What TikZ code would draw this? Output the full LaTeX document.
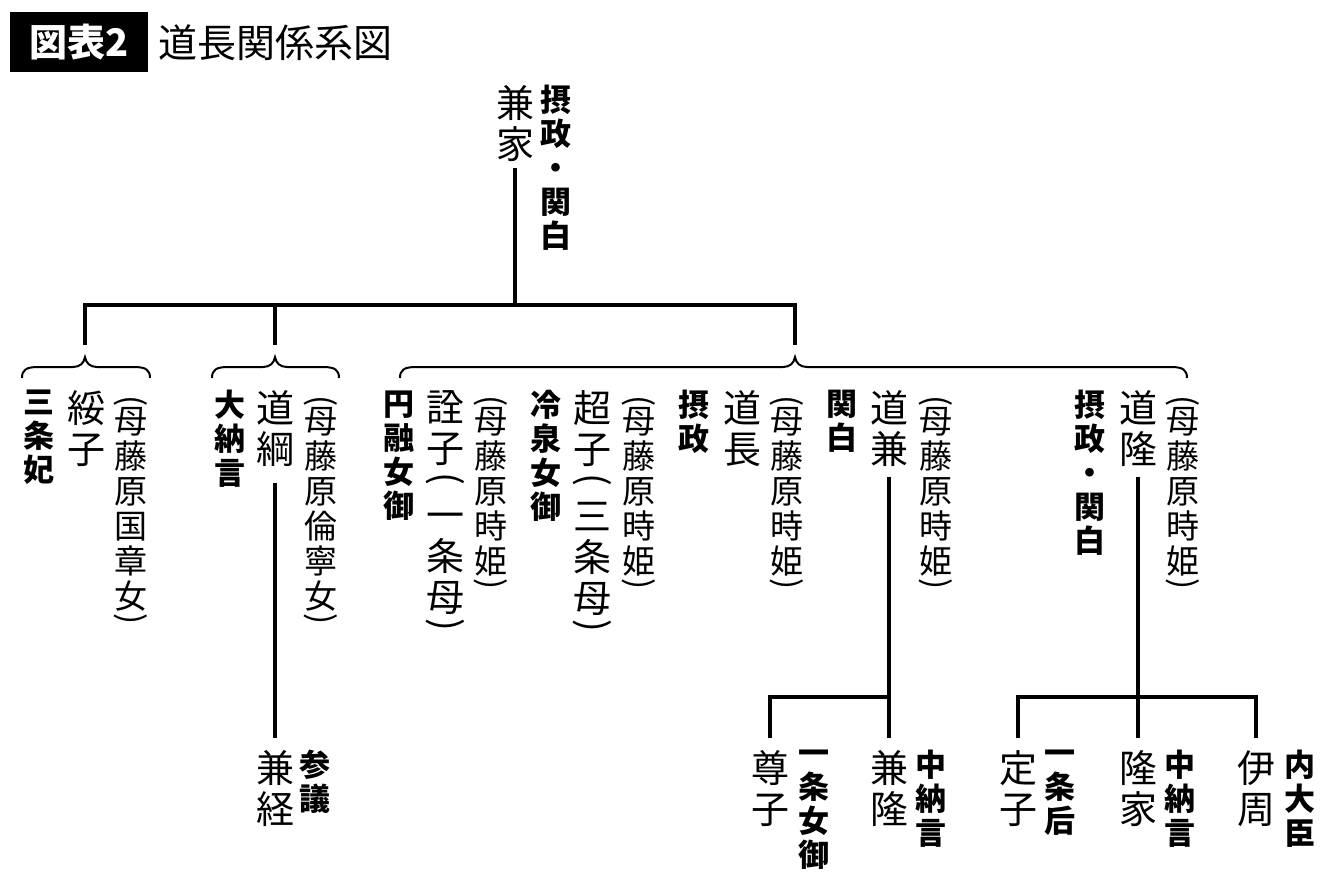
\documentclass[tikz,border=0pt]{standalone}
\usepackage{fontspec}
\usepackage{tikz}
\newfontfamily\jp{Noto Sans CJK JP}
\tikzstyle{NameNode}=[anchor=north,align=center,inner sep=0pt,font=\jp\fontsize{19}{20.5}\selectfont]
\tikzstyle{RankNode}=[anchor=north,align=center,inner sep=0pt,font=\jp\bfseries\fontsize{15.5}{17}\selectfont]
\tikzstyle{MotherNode}=[anchor=north,align=center,inner sep=0pt,font=\jp\fontsize{16.5}{17.5}\selectfont]
\tikzstyle{LineTree}=[line width=2pt]
\tikzstyle{BraceTree}=[line width=1pt]
% vertical parentheses
\newcommand{\VLp}{\rotatebox[origin=c]{-90}{(}}
\newcommand{\VRp}{\rotatebox[origin=c]{-90}{)}}
\newcommand{\Lp}{\VLp\\[-6.3pt]}
\newcommand{\Rp}{\\[-7.3pt]\VRp}
\newcommand{\NLp}{\\[-6.3pt]\VLp\\[-1pt]}
\newcommand{\NRp}{\\[-8pt]\VRp}
% brace under a drop line: left end, tip, right end
\newcommand{\FamBrace}[3]{\draw[BraceTree](#1,378) .. controls (#1,370) and (#1+4,367) .. (#1+16,367)
  -- (#2-12,367) .. controls (#2-5,367) and (#2-1,363) .. (#2,357)
  .. controls (#2+1,363) and (#2+5,367) .. (#2+12,367) -- (#3-16,367)
  .. controls (#3-4,367) and (#3,370) .. (#3,378);}

\begin{document}
\begin{tikzpicture}[x=0.5pt,y=-0.5pt]
        \useasboundingbox (0,0) rectangle (1340,890);
        % title
        \node[fill=black,text=white,minimum width=69pt,minimum height=30pt,inner sep=0pt,
          font=\jp\bfseries\fontsize{19}{20}\selectfont](tbox)at(79,42){図表2};
        \node[anchor=west,inner sep=0pt,font=\jp\fontsize{19.5}{20}\selectfont](ttext)at(158,43){道長関係系図};
        % first generation
        \node[NameNode](kaneie)at(515,85){兼\\家};
        \node[RankNode](kaneieR)at(556,85){摂\\政\\・\\関\\白};
        % second generation
        \node[RankNode](suikoR)at(39,390){三\\条\\妃};
        \node[NameNode](suiko)at(86,390){綏\\子};
        \node[MotherNode](suikoM)at(131,395){\Lp 母\\藤\\原\\国\\章\\女\Rp};
        \node[RankNode](tsunaR)at(230,390){大\\納\\言};
        \node[NameNode](tsuna)at(275,390){道\\綱};
        \node[MotherNode](tsunaM)at(321,395){\Lp 母\\藤\\原\\倫\\寧\\女\Rp};
        \node[RankNode](senshiR)at(399,390){円\\融\\女\\御};
        \node[NameNode](senshi)at(445,390){詮\\子\NLp 一\\条\\母\NRp};
        \node[MotherNode](senshiM)at(491,395){\Lp 母\\藤\\原\\時\\姫\Rp};
        \node[RankNode](choshiR)at(546,390){冷\\泉\\女\\御};
        \node[NameNode](choshi)at(592,390){超\\子\NLp 三\\条\\母\NRp};
        \node[MotherNode](choshiM)at(639,395){\Lp 母\\藤\\原\\時\\姫\Rp};
        \node[RankNode](nagaR)at(694,390){摂\\政};
        \node[NameNode](naga)at(742,390){道\\長};
        \node[MotherNode](nagaM)at(787,395){\Lp 母\\藤\\原\\時\\姫\Rp};
        \node[RankNode](kaneR)at(842,390){関\\白};
        \node[NameNode](kane)at(889,390){道\\兼};
        \node[MotherNode](kaneM)at(936,395){\Lp 母\\藤\\原\\時\\姫\Rp};
        \node[RankNode](takaR)at(1090,390){摂\\政\\・\\関\\白};
        \node[NameNode](taka)at(1138,390){道\\隆};
        \node[MotherNode](takaM)at(1183,395){\Lp 母\\藤\\原\\時\\姫\Rp};
        % third generation
        \node[NameNode](kanetsune)at(275,750){兼\\経};
        \node[RankNode](kanetsuneR)at(315,750){参\\議};
        \node[NameNode](sonshi)at(770,750){尊\\子};
        \node[RankNode](sonshiR)at(814,750){一\\条\\女\\御};
        \node[NameNode](kanetaka)at(889,750){兼\\隆};
        \node[RankNode](kanetakaR)at(931,750){中\\納\\言};
        \node[NameNode](teishi)at(1018,750){定\\子};
        \node[RankNode](teishiR)at(1060,750){一\\条\\后};
        \node[NameNode](takaie)at(1138,750){隆\\家};
        \node[RankNode](takaieR)at(1180,750){中\\納\\言};
        \node[NameNode](korechika)at(1256,750){伊\\周};
        \node[RankNode](korechikaR)at(1300,750){内\\大\\臣};
        % lines from kaneie
        \coordinate(jtop)at(515,305);
        \coordinate(b1)at(85,345);
        \coordinate(b2)at(275,345);
        \coordinate(b3)at(795,345);
        \draw[LineTree]([yshift=-3pt]kaneie.south)--(jtop);
        \draw[LineTree](b1)|-(jtop)-|(b3);
        \draw[LineTree](b2)--(b2|-jtop);
        \FamBrace{22}{85}{150}
        \FamBrace{212}{275}{339}
        \FamBrace{400}{795}{1187}
        % lines to third generation
        \coordinate(jkane)at(889,697);
        \coordinate(jtaka)at(1138,697);
        \draw[LineTree]([yshift=-8pt]tsuna.south)--([yshift=6pt]kanetsune.north);
        \draw[LineTree]([yshift=-5pt]kane.south)--(jkane);
        \draw[LineTree]([yshift=6pt]sonshi.north)|-(jkane)--([yshift=6pt]kanetaka.north);
        \draw[LineTree]([yshift=-5pt]taka.south)--([yshift=6pt]takaie.north);
        \draw[LineTree]([yshift=6pt]teishi.north)|-(jtaka)-|([yshift=6pt]korechika.north);
    \end{tikzpicture}
\end{document}
